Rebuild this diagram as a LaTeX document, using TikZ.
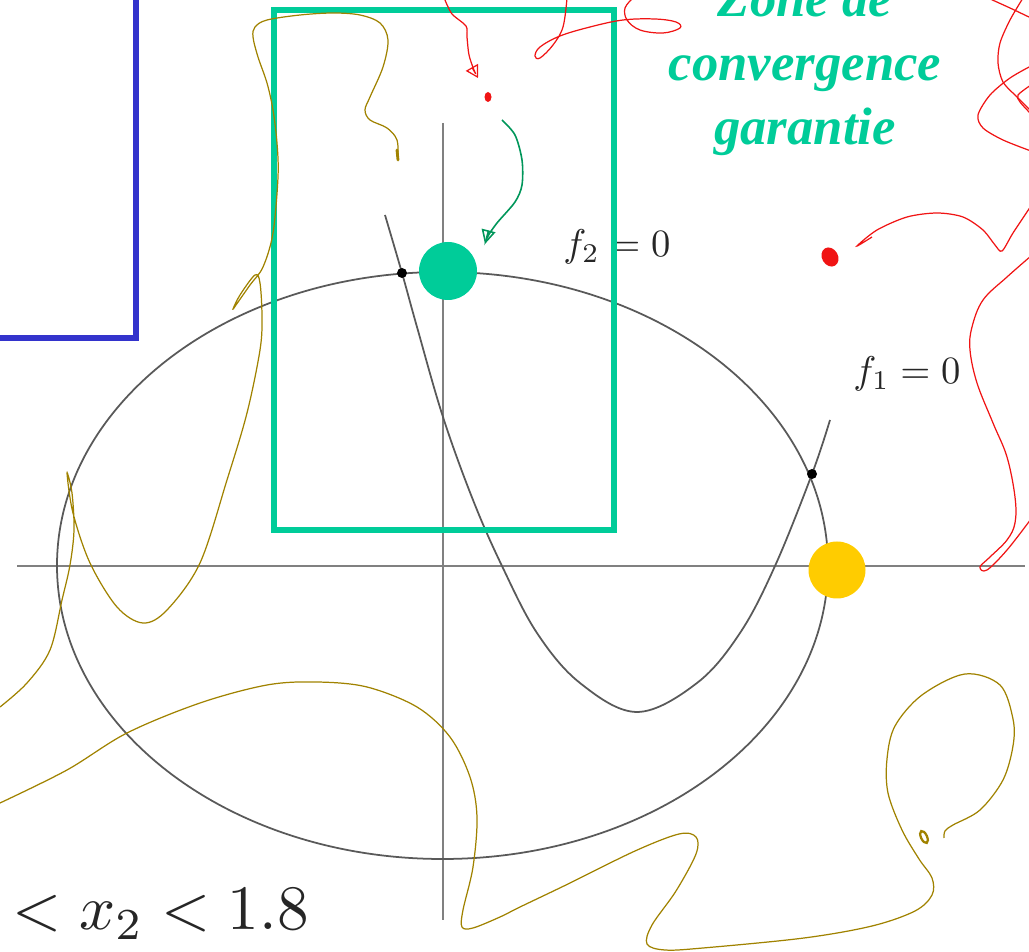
\documentclass[tikz,border=0pt]{standalone}
\usepackage{amsmath,amssymb}
\usepackage{graphicx}
\usepackage{fontspec}
\usepackage{tikz}
\usetikzlibrary{arrows.meta}

\newfontfamily\zonefont{Liberation Serif}

\definecolor{zonegreen}{RGB}{0,204,153}
\definecolor{penblue}{RGB}{51,51,204}
\definecolor{sunyellow}{RGB}{255,204,0}
\definecolor{olivepen}{RGB}{160,130,0}
\definecolor{redpen}{RGB}{240,20,20}
\definecolor{arrowgreen}{RGB}{0,150,90}

\begin{document}
\begin{tikzpicture}[x=0.02cm, y=-0.02cm,
  axisline/.style={draw=black!50, line width=1pt},
  graphline/.style={draw=black!65, line width=1pt},
  rootdot/.style={fill=black},
  eqlabel/.style={inner sep=0pt, text=black!85},
  olive/.style={draw=olivepen, line width=0.7pt},
  redink/.style={draw=redpen, line width=0.7pt},
  greenink/.style={draw=arrowgreen, line width=0.9pt}]
\useasboundingbox (0,0) rectangle (1029,952);

% axes and the two curves
\draw[axisline] (17,566) -- (1025,566);
\draw[axisline] (443,123) -- (443,920);
\draw[graphline] (442.5,565.5) ellipse [x radius=385.5, y radius=293.5];
\draw[graphline] plot[smooth, tension=0.6] coordinates {(385,215) (402,273) (417,327) (443,417) (473,500) (502,566) (537,633) (580,683) (637,712) (697,683) (740,633) (775,566) (812,474) (830,420)};
\fill[rootdot] (402,273) circle [radius=5];
\fill[rootdot] (812,474) circle [radius=5];

\node[eqlabel, anchor=base west] (ftwo) at (563,257) {\scalebox{2.2}{$f_2 = 0$}};
\node[eqlabel, anchor=base west] (fone) at (853,384) {\scalebox{2.2}{$f_1 = 0$}};
\node[inner sep=0pt, anchor=base west, text=black!85] (range) at (12,930) {\scalebox{3.6}{$< x_2 < 1.8$}};

% boxes
\draw[draw=zonegreen, line width=3.4pt] (274,10) rectangle (614,530);
\draw[draw=penblue, line width=3.1pt] (-10,338) -- (136,338) -- (136,-10);

% starting points
\fill[zonegreen] (448,271) circle [radius=29];
\fill[sunyellow] (837,570) circle [radius=28.5];

\node[anchor=base, inner sep=0pt, align=center, text=zonegreen,
  font=\zonefont\bfseries\itshape\fontsize{30}{36.5}\selectfont] (zone) at (805,145)
  {Zone de\\convergence\\garantie};

% hand-drawn marks
\draw[olive] plot[smooth, tension=0.55] coordinates {(398,160) (397,140) (387,128) (370,120) (365,110) (370,97) (383,67) (388,40) (380,23) (360,15) (333,13) (300,15) (267,20) (255,27) (253,37) (258,57) (267,83) (273,110) (277,143) (278,177) (273,233) (263,267) (250,285) (236,305) (233,309) (240,295) (255,275) (260,283) (262,317) (260,350) (247,413) (227,480) (200,563) (167,610) (143,623) (117,607) (90,563) (73,513) (67,473) (72,493) (74,530) (70,565) (62,600) (50,650) (27,683) (0,707)};
\draw[olive, line width=1.6pt, line cap=round] (398,160) -- (397,150);
\draw[olive] plot[smooth, tension=0.55] coordinates {(0,803) (67,770) (127,733) (200,703) (267,685) (317,682) (367,687) (417,707) (450,737) (470,777) (477,817) (473,867) (463,910) (462,927) (473,928) (500,917) (520,907) (568,884) (635,851) (679,834) (696,837) (696,854) (676,891) (652,925) (647,944) (665,950) (703,948) (804,938) (872,926) (915,911) (932,895) (932,878) (919,859) (902,830) (888,793) (887,759) (895,726) (922,695) (965,674) (1000,685) (1013,719) (1013,746) (1003,780) (980,810) (953,825) (945,831) (944,838)};
\draw[olive, line width=1.3pt, rotate around={25:(924,837)}] (924,837) ellipse [x radius=3, y radius=6.5];

\draw[redink, -{Triangle[open, length=7pt, width=8pt]}] plot[smooth] coordinates {(445,0) (452,14) (466,26) (467,37) (469,55) (474,70) (478,78)};
\fill[redpen] (488,97) ellipse [x radius=3.5, y radius=5];
\draw[redink] plot[smooth, tension=0.6] coordinates {(567,-2) (563,27) (553,45) (540,58) (535,56) (540,47) (560,36) (590,27) (623,20) (655,19) (676,22) (680,28) (663,33) (640,30) (627,20) (625,8) (633,-2)};
\draw[redink] plot[smooth] coordinates {(988,-2) (1010,8) (1031,18)};
\draw[redink] plot[smooth] coordinates {(1023,-2) (1010,20) (1000,43) (998,63) (1003,82) (1017,97) (1031,111)};
\draw[redink] plot[smooth] coordinates {(1031,66) (1010,78) (990,95) (978,115) (983,128) (1003,140) (1031,151)};
\draw[redink] plot[smooth] coordinates {(1031,85) (1018,95) (1020,102) (1031,114)};
\draw[redink] plot[smooth, tension=0.5] coordinates {(1031,206) (1013,233) (1002,251) (995,245) (983,230) (963,217) (937,213) (907,217) (877,230) (857,246) (872,237)};
\fill[redpen, rotate around={30:(830,257)}] (830,257) ellipse [x radius=8, y radius=10];
\draw[redink] plot[smooth, tension=0.6] coordinates {(1031,256) (1007,277) (983,300) (972,327) (970,350) (977,383) (993,423) (1007,457) (1015,497) (1015,523) (1007,540) (990,557) (980,567) (987,570) (1007,550) (1031,519)};

\draw[greenink, -{Triangle[open, length=8pt, width=8pt]}] plot[smooth] coordinates {(502,120) (515,135) (522,160) (522,185) (515,202) (497,223) (488,236) (485,244)};
\end{tikzpicture}
\end{document}
